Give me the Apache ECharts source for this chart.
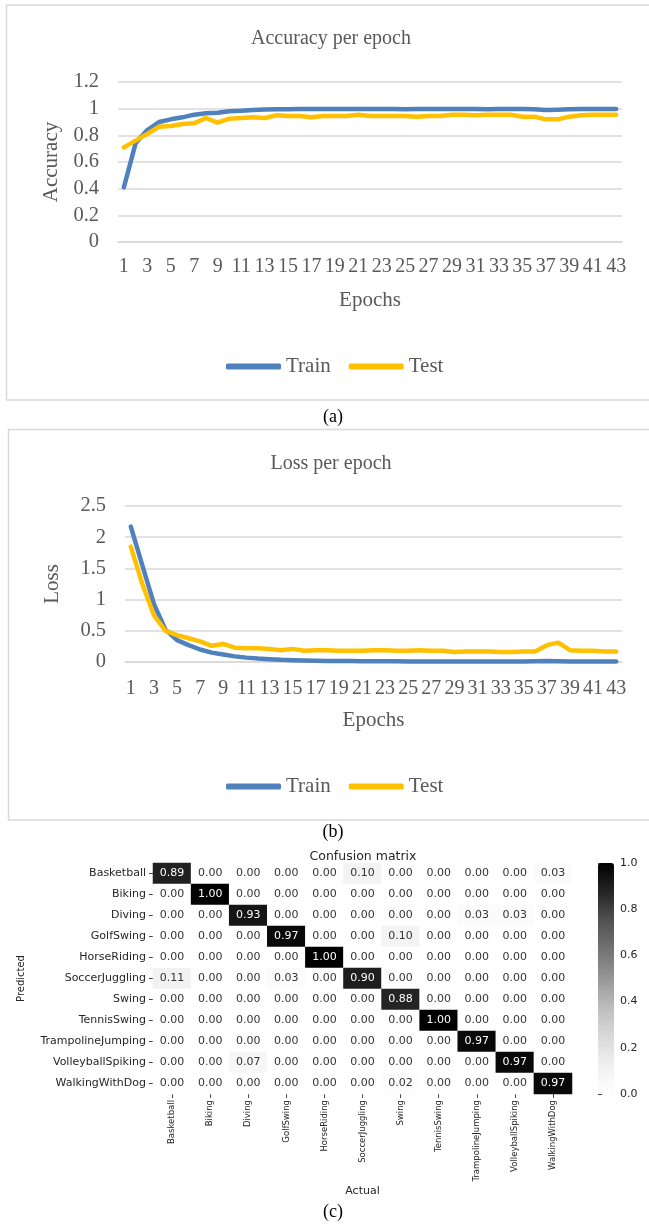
<!DOCTYPE html>
<html>
<head>
<meta charset="utf-8">
<script src="https://cdn.jsdelivr.net/npm/echarts@6/dist/echarts.min.js"></script>
<style>
html,body{margin:0;padding:0;background:#fff;}
#chart{width:649px;height:1224px;}
</style>
</head>
<body>
<div id="chart"></div>
<script>
// ---------- DATA ----------
const epochs = ['1','2','3','4','5','6','7','8','9','10','11','12','13','14','15','16','17','18','19','20','21','22','23','24','25','26','27','28','29','30','31','32','33','34','35','36','37','38','39','40','41','42','43'];
const accTrain = [0.41,0.74,0.84,0.90,0.92,0.935,0.955,0.965,0.97,0.98,0.985,0.99,0.993,0.995,0.995,0.997,0.998,0.997,0.998,0.998,0.998,0.998,0.998,0.998,0.995,0.997,0.998,0.998,0.998,0.998,0.998,0.995,0.997,0.998,0.997,0.995,0.99,0.992,0.995,0.998,0.998,0.998,0.998];
const accTest = [0.71,0.76,0.81,0.865,0.87,0.885,0.89,0.93,0.895,0.925,0.93,0.935,0.93,0.95,0.945,0.945,0.935,0.945,0.945,0.945,0.955,0.945,0.945,0.945,0.945,0.94,0.945,0.945,0.955,0.955,0.95,0.955,0.955,0.955,0.94,0.94,0.92,0.92,0.94,0.95,0.955,0.955,0.955];
const lossTrain = [2.17,1.55,0.93,0.52,0.35,0.27,0.20,0.15,0.12,0.09,0.07,0.055,0.045,0.035,0.03,0.025,0.02,0.018,0.016,0.015,0.014,0.012,0.012,0.011,0.01,0.01,0.01,0.01,0.01,0.01,0.01,0.009,0.009,0.009,0.01,0.012,0.015,0.012,0.01,0.008,0.008,0.008,0.008];
const lossTest = [1.85,1.25,0.75,0.50,0.43,0.38,0.33,0.26,0.29,0.23,0.22,0.22,0.21,0.19,0.21,0.18,0.19,0.19,0.18,0.18,0.18,0.19,0.19,0.18,0.18,0.19,0.18,0.18,0.16,0.17,0.17,0.17,0.16,0.16,0.17,0.17,0.27,0.31,0.19,0.18,0.18,0.17,0.17];
const classes = ['Basketball','Biking','Diving','GolfSwing','HorseRiding','SoccerJuggling','Swing','TennisSwing','TrampolineJumping','VolleyballSpiking','WalkingWithDog'];
// rows = Predicted, columns = Actual
const confusion = [
  [0.89,0.00,0.00,0.00,0.00,0.10,0.00,0.00,0.00,0.00,0.03],
  [0.00,1.00,0.00,0.00,0.00,0.00,0.00,0.00,0.00,0.00,0.00],
  [0.00,0.00,0.93,0.00,0.00,0.00,0.00,0.00,0.03,0.03,0.00],
  [0.00,0.00,0.00,0.97,0.00,0.00,0.10,0.00,0.00,0.00,0.00],
  [0.00,0.00,0.00,0.00,1.00,0.00,0.00,0.00,0.00,0.00,0.00],
  [0.11,0.00,0.00,0.03,0.00,0.90,0.00,0.00,0.00,0.00,0.00],
  [0.00,0.00,0.00,0.00,0.00,0.00,0.88,0.00,0.00,0.00,0.00],
  [0.00,0.00,0.00,0.00,0.00,0.00,0.00,1.00,0.00,0.00,0.00],
  [0.00,0.00,0.00,0.00,0.00,0.00,0.00,0.00,0.97,0.00,0.00],
  [0.00,0.00,0.07,0.00,0.00,0.00,0.00,0.00,0.00,0.97,0.00],
  [0.00,0.00,0.00,0.00,0.00,0.00,0.02,0.00,0.00,0.00,0.97]
];
const colorbarTicks = [0,0.2,0.4,0.6,0.8,1.0];

// ---------- STYLE ----------
const SERIF = 'Liberation Serif';
const SANS = 'DejaVu Sans';
const GRAY = '#595959';
const BLUE = '#4F81BD';
const GOLD = '#FFC000';
const greys = ['#ffffff','#f0f0f0','#d9d9d9','#bdbdbd','#969696','#737373','#525252','#252525','#000000'];

const heatData = [];
confusion.forEach((row, i) => row.forEach((v, j) => {
  heatData.push({ value: [j, i, v], label: { color: v > 0.5 ? '#ffffff' : '#333333' } });
}));

function lineXAxis(gridIndex, margin) {
  return {
    type: 'category', gridIndex, data: epochs, boundaryGap: true,
    name: 'Epochs', nameLocation: 'middle', nameGap: 48,
    nameTextStyle: { fontFamily: SERIF, fontSize: 21, color: GRAY },
    axisLine: { show: true, lineStyle: { color: '#d9d9d9', width: 1.5 } },
    axisTick: { show: false },
    axisLabel: { interval: 1, margin, fontFamily: SERIF, fontSize: 20, color: GRAY }
  };
}
function lineYAxis(gridIndex, name, max, interval, nameGap) {
  return {
    type: 'value', gridIndex, min: 0, max, interval,
    name, nameLocation: 'middle', nameGap,
    nameTextStyle: { fontFamily: SERIF, fontSize: 21, color: GRAY },
    axisLine: { show: false }, axisTick: { show: false },
    splitLine: { lineStyle: { color: '#d9d9d9', width: 1.5 } },
    axisLabel: { margin: 19, fontFamily: SERIF, fontSize: 20.5, color: GRAY }
  };
}
function lineSeries(name, data, color, idx) {
  return {
    type: 'line', name, data, xAxisIndex: idx, yAxisIndex: idx,
    symbol: 'none', smooth: false,
    lineStyle: { color, width: 4.5, cap: 'round', join: 'round' },
    itemStyle: { color }, emphasis: { disabled: true }
  };
}
function legend(top) {
  return {
    data: ['Train', 'Test'], left: 221, top, itemWidth: 55, itemHeight: 6, itemGap: 18,
    icon: 'roundRect', textStyle: { fontFamily: SERIF, fontSize: 21, color: GRAY }
  };
}
function caption(text, top) {
  return { text, left: 333, top, textAlign: 'center', padding: 0,
    textStyle: { fontFamily: SERIF, fontSize: 18, fontWeight: 'normal', color: '#000' } };
}

const option = {
  backgroundColor: '#ffffff',
  animation: false,
  graphic: [
    { type: 'rect', shape: { x: 6.5, y: 5, width: 700, height: 395 }, style: { fill: 'none', stroke: '#d9d9d9', lineWidth: 1.5 } },
    { type: 'rect', shape: { x: 8.5, y: 429.5, width: 700, height: 390.5 }, style: { fill: 'none', stroke: '#d9d9d9', lineWidth: 1.5 } }
  ],
  title: [
    { text: 'Accuracy per epoch', left: 331, top: 29, textAlign: 'center', padding: 0,
      textStyle: { fontFamily: SERIF, fontSize: 20, fontWeight: 'normal', color: GRAY } },
    { text: 'Loss per epoch', left: 331, top: 454, textAlign: 'center', padding: 0,
      textStyle: { fontFamily: SERIF, fontSize: 20, fontWeight: 'normal', color: GRAY } },
    { text: 'Confusion matrix', left: 363, top: 850, textAlign: 'center', padding: 0,
      textStyle: { fontFamily: SANS, fontSize: 12.5, fontWeight: 'normal', color: '#262626' } },
    caption('(a)', 408), caption('(b)', 823), caption('(c)', 1203)
  ],
  legend: [legend(351), legend(771)],
  grid: [
    { left: 118, top: 82, width: 504, height: 160 },
    { left: 125, top: 506, width: 497, height: 156 },
    { left: 153, top: 863, width: 419, height: 231 },
    { left: 598, top: 863, width: 16, height: 231 }
  ],
  xAxis: [
    lineXAxis(0, 15),
    lineXAxis(1, 17),
    {
      type: 'category', gridIndex: 2, data: classes, position: 'bottom',
      name: 'Actual', nameLocation: 'middle', nameGap: 87,
      nameTextStyle: { fontFamily: SANS, fontSize: 11, color: '#262626' },
      axisLine: { show: false },
      axisTick: { show: true, alignWithLabel: true, length: 4, lineStyle: { color: '#444' } },
      axisLabel: { rotate: 90, interval: 0, margin: 6, fontFamily: SANS, fontSize: 8.5, color: '#262626' },
      splitLine: { show: false }
    },
    { type: 'value', gridIndex: 3, show: false, min: 0, max: 1 }
  ],
  yAxis: [
    lineYAxis(0, 'Accuracy', 1.2, 0.2, 56),
    lineYAxis(1, 'Loss', 2.5, 0.5, 62),
    {
      type: 'category', gridIndex: 2, data: classes, inverse: true,
      name: 'Predicted', nameLocation: 'middle', nameGap: 127,
      nameTextStyle: { fontFamily: SANS, fontSize: 10, color: '#262626' },
      axisLine: { show: false },
      axisTick: { show: true, alignWithLabel: true, length: 4, lineStyle: { color: '#444' } },
      axisLabel: { interval: 0, margin: 7, fontFamily: SANS, fontSize: 11, color: '#262626' },
      splitLine: { show: false }
    },
    {
      type: 'value', gridIndex: 3, position: 'right', min: 0, max: 1, interval: 0.2,
      axisLine: { show: false }, splitLine: { show: false },
      axisTick: { show: true, length: 4, lineStyle: { color: '#444' } },
      axisLabel: { margin: 6, fontFamily: SANS, fontSize: 11, color: '#262626',
        formatter: v => v.toFixed(1) }
    }
  ],
  visualMap: {
    type: 'continuous', min: 0, max: 1, seriesIndex: 4, dimension: 2,
    left: 598, top: 863, itemWidth: 16, itemHeight: 231, padding: 0,
    calculable: false, text: null, showLabel: false, hoverLink: false,
    inRange: { color: greys }
  },
  series: [
    lineSeries('Train', accTrain, BLUE, 0),
    lineSeries('Test', accTest, GOLD, 0),
    lineSeries('Train', lossTrain, BLUE, 1),
    lineSeries('Test', lossTest, GOLD, 1),
    {
      type: 'heatmap', xAxisIndex: 2, yAxisIndex: 2, data: heatData,
      label: { show: true, fontFamily: SANS, fontSize: 11, formatter: p => p.value[2].toFixed(2) },
      emphasis: { disabled: true }
    },
    { type: 'scatter', xAxisIndex: 3, yAxisIndex: 3, data: colorbarTicks.map(() => null), silent: true }
  ]
};

const chart = echarts.init(document.getElementById('chart'), null, { renderer: 'canvas' });
chart.setOption(option);
</script>
</body>
</html>
